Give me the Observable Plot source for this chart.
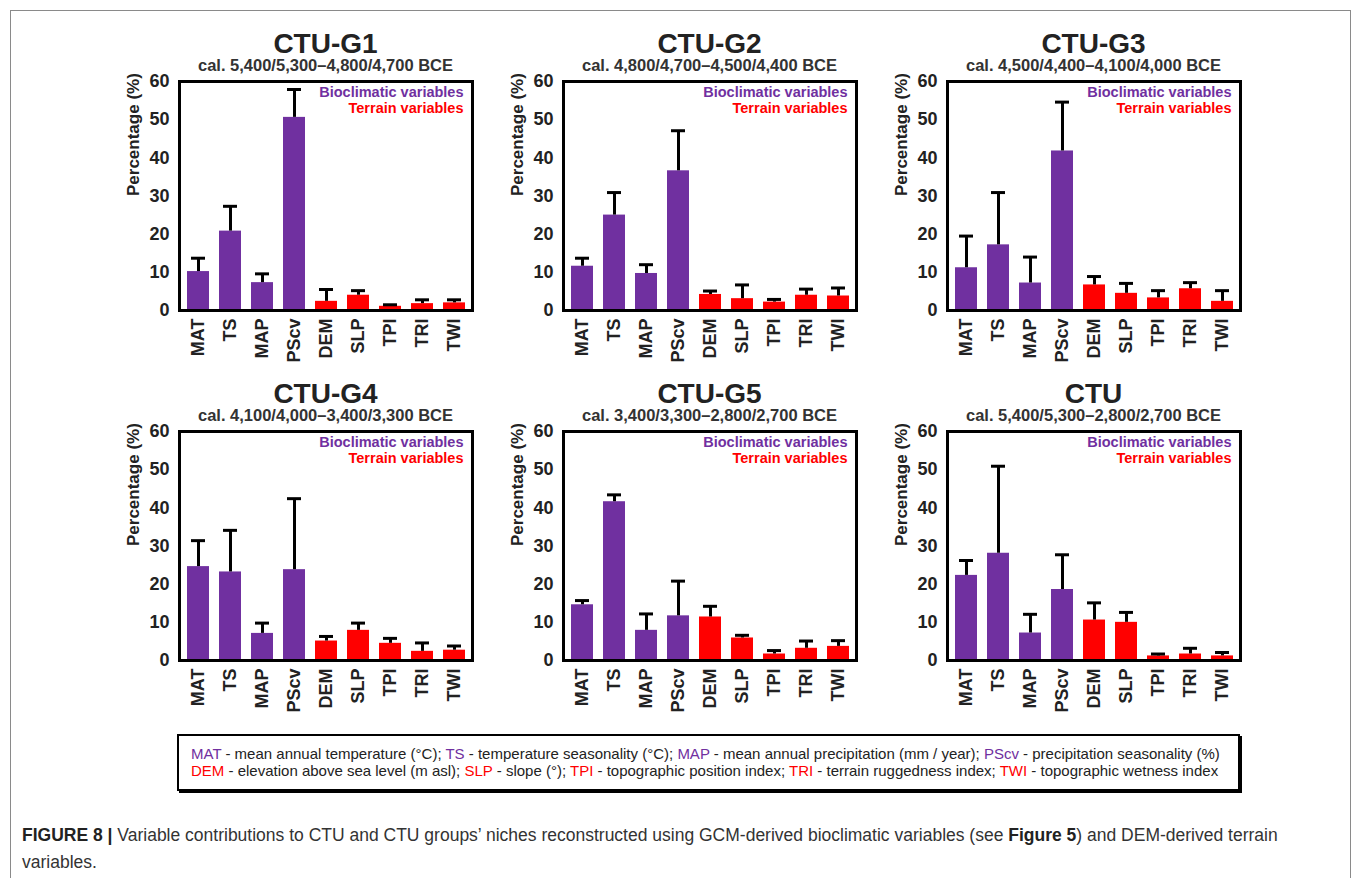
<!DOCTYPE html>
<html>
<head>
<meta charset="utf-8">
<script src="https://cdn.jsdelivr.net/npm/d3@7"></script>
<script src="https://cdn.jsdelivr.net/npm/@observablehq/plot@0.6"></script>
<style>
  html, body { margin: 0; padding: 0; background: #fff; }
  #root { position: relative; width: 1357px; height: 878px; overflow: hidden; background: #fff;
          font-family: "Liberation Sans", Arial, sans-serif; }
  .outer { position: absolute; left: 10px; top: 10px; width: 1339px; height: 900px; border: 1px solid #8a8a8a; }
  .ptitle { position: absolute; text-align: center; font-weight: bold; font-size: 28px; color: #222; line-height: 1; }
  .psub { position: absolute; text-align: center; font-weight: bold; font-size: 16.5px; color: #333; line-height: 1; white-space: nowrap; }
  .panel { position: absolute; }
  .legendbox { position: absolute; left: 177px; top: 734px; width: 1059px; height: 53px; border: 2px solid #000;
               box-shadow: 2px 2px 0 #000; font-size: 15px; line-height: 17px; color: #222; padding: 0; }
  .legendbox .inner { position: absolute; left: 12px; top: 9px; white-space: nowrap; }
  .capline { position: absolute; left: 22px; font-size: 17.5px; color: #333; line-height: 20px; white-space: nowrap; }
</style>
</head>
<body>
<div id="root">
  <div class="outer"></div>
</div>
<script>
// ---------- data ----------
const variables = ["MAT", "TS", "MAP", "PScv", "DEM", "SLP", "TPI", "TRI", "TWI"];
const variableGroups = ["Bioclimatic", "Bioclimatic", "Bioclimatic", "Bioclimatic",
                        "Terrain", "Terrain", "Terrain", "Terrain", "Terrain"];
const groupColors = { Bioclimatic: "#7030A0", Terrain: "#FF0000" };

const panelTitles = ["CTU-G1", "CTU-G2", "CTU-G3", "CTU-G4", "CTU-G5", "CTU"];
const panelPeriods = [
  "cal. 5,400/5,300\u20134,800/4,700 BCE",
  "cal. 4,800/4,700\u20134,500/4,400 BCE",
  "cal. 4,500/4,400\u20134,100/4,000 BCE",
  "cal. 4,100/4,000\u20133,400/3,300 BCE",
  "cal. 3,400/3,300\u20132,800/2,700 BCE",
  "cal. 5,400/5,300\u20132,800/2,700 BCE"
];

// mean contribution (%) and top of the error bar (%) per variable
const meanG1 = [10.2, 20.8, 7.3, 50.6, 2.4, 4.0, 1.1, 1.8, 2.0];
const errTopG1 = [13.7, 27.3, 9.6, 57.9, 5.5, 5.2, 1.5, 2.8, 2.8];
const meanG2 = [11.6, 25.0, 9.7, 36.6, 4.2, 3.1, 2.2, 4.0, 3.8];
const errTopG2 = [13.7, 30.9, 12.0, 47.1, 5.1, 6.7, 2.9, 5.6, 5.9];
const meanG3 = [11.2, 17.2, 7.2, 41.8, 6.7, 4.5, 3.3, 5.7, 2.4];
const errTopG3 = [19.5, 30.9, 14.0, 54.6, 8.9, 7.1, 5.2, 7.3, 5.2];
const meanG4 = [24.6, 23.2, 7.1, 23.8, 5.1, 7.9, 4.5, 2.4, 2.7];
const errTopG4 = [31.4, 34.1, 9.8, 42.4, 6.3, 9.8, 5.8, 4.6, 3.8];
const meanG5 = [14.6, 41.6, 7.9, 11.7, 11.4, 5.9, 1.7, 3.2, 3.7];
const errTopG5 = [15.7, 43.4, 12.2, 20.8, 14.2, 6.6, 2.6, 5.1, 5.2];
const meanCTU = [22.3, 28.1, 7.2, 18.6, 10.6, 10.0, 1.2, 1.7, 1.2];
const errTopCTU = [26.2, 50.9, 12.1, 27.7, 15.1, 12.6, 1.7, 3.2, 2.1];

const panelMeans = [meanG1, meanG2, meanG3, meanG4, meanG5, meanCTU];
const panelErrTops = [errTopG1, errTopG2, errTopG3, errTopG4, errTopG5, errTopCTU];

const yTicks = [0, 10, 20, 30, 40, 50, 60];
const yLabel = "Percentage (%)";
const legendLabels = ["Bioclimatic variables", "Terrain variables"];

const abbrevDefs = [
  [["MAT", " - mean annual temperature (\u00B0C); "], ["TS", " - temperature seasonality (\u00B0C); "],
   ["MAP", " - mean annual precipitation (mm / year); "], ["PScv", " - precipitation seasonality (%)"]],
  [["DEM", " - elevation above sea level (m asl); "], ["SLP", " - slope (\u00B0); "],
   ["TPI", " - topographic position index; "], ["TRI", " - terrain ruggedness index; "],
   ["TWI", " - topographic wetness index"]]
];
// caption lines: [text, bold?]
const captionLines = [
  [["FIGURE 8 | ", true],
   ["Variable contributions to CTU and CTU groups\u2019 niches reconstructed using GCM-derived bioclimatic variables (see ", false],
   ["Figure 5", true],
   [") and DEM-derived terrain", false]],
  [["variables.", false]]
];

// ---------- layout ----------
const frameLefts = [179, 563, 947];
const frameTops = [81, 431];
const frameW = 293, frameH = 229;
const mL = 80, mR = 12, mT = 12, mB = 60;

const root = document.getElementById("root");

panelTitles.forEach((title, i) => {
  const col = i % 3, row = Math.floor(i / 3);
  const fx = frameLefts[col], fy = frameTops[row];
  const data = variables.map((v, j) => ({
    variable: v, group: variableGroups[j], mean: panelMeans[i][j], errTop: panelErrTops[i][j]
  }));

  const chart = Plot.plot({
    width: mL + frameW + mR,
    height: mT + frameH + mB,
    marginLeft: mL, marginRight: mR, marginTop: mT, marginBottom: mB,
    style: { fontFamily: "'Liberation Sans', Arial, sans-serif", fontWeight: "bold", color: "#222", background: "transparent", overflow: "visible" },
    x: { domain: variables, paddingInner: 0.32, paddingOuter: 0.18 },
    y: { domain: [0, 60] },
    color: { type: "identity" },
    marks: [
      Plot.barY(data, { x: "variable", y: "mean", fill: d => groupColors[d.group] }),
      Plot.ruleX(data, { x: "variable", y1: "mean", y2: "errTop", stroke: "#000", strokeWidth: 3 }),
      Plot.tickY(data, { x: "variable", y: "errTop", stroke: "#000", strokeWidth: 3, insetLeft: 4, insetRight: 4 }),
      Plot.axisY({ ticks: yTicks, tickSize: 0, tickPadding: 10, fontSize: 18, label: null }),
      Plot.axisX({ tickRotate: -90, tickSize: 0, tickPadding: 8, fontSize: 18, label: null }),
      Plot.text([yLabel], { frameAnchor: "left", rotate: -90, dx: -46, fontSize: 17, fontWeight: "bold", fill: "#222" }),
      Plot.text([legendLabels[0]], { frameAnchor: "top-right", textAnchor: "end", lineAnchor: "middle", dx: -9, dy: 11, fontSize: 14.5, fontWeight: "bold", fill: groupColors.Bioclimatic }),
      Plot.text([legendLabels[1]], { frameAnchor: "top-right", textAnchor: "end", lineAnchor: "middle", dx: -9, dy: 27, fontSize: 14.5, fontWeight: "bold", fill: groupColors.Terrain }),
      Plot.frame({ stroke: "#000", strokeWidth: 3 })
    ]
  });
  const wrap = document.createElement("div");
  wrap.className = "panel";
  wrap.style.left = (fx - mL) + "px";
  wrap.style.top = (fy - mT) + "px";
  wrap.appendChild(chart);
  root.appendChild(wrap);

  const t = document.createElement("div");
  t.className = "ptitle";
  t.textContent = title;
  t.style.left = (fx - 60) + "px"; t.style.width = (frameW + 120) + "px";
  t.style.top = (fy - 51) + "px";
  root.appendChild(t);

  const s = document.createElement("div");
  s.className = "psub";
  s.textContent = panelPeriods[i];
  s.style.left = (fx - 60) + "px"; s.style.width = (frameW + 120) + "px";
  s.style.top = (fy - 24) + "px";
  root.appendChild(s);
});

// abbreviation legend box
const box = document.createElement("div");
box.className = "legendbox";
const inner = document.createElement("div");
inner.className = "inner";
abbrevDefs.forEach((line, li) => {
  const ld = document.createElement("div");
  line.forEach(([abbr, def]) => {
    const a = document.createElement("span");
    a.textContent = abbr;
    a.style.color = li === 0 ? groupColors.Bioclimatic : groupColors.Terrain;
    ld.appendChild(a);
    const d = document.createElement("span");
    d.textContent = def;
    ld.appendChild(d);
  });
  inner.appendChild(ld);
});
box.appendChild(inner);
root.appendChild(box);

// caption, one div per line
captionLines.forEach((parts, li) => {
  const line = document.createElement("div");
  line.className = "capline";
  line.style.top = (825 + li * 27) + "px";
  parts.forEach(([txt, bold]) => {
    const sp = document.createElement("span");
    sp.textContent = txt;
    if (bold) { sp.style.fontWeight = "bold"; sp.style.color = "#222"; }
    line.appendChild(sp);
  });
  root.appendChild(line);
});
</script>
</body>
</html>
